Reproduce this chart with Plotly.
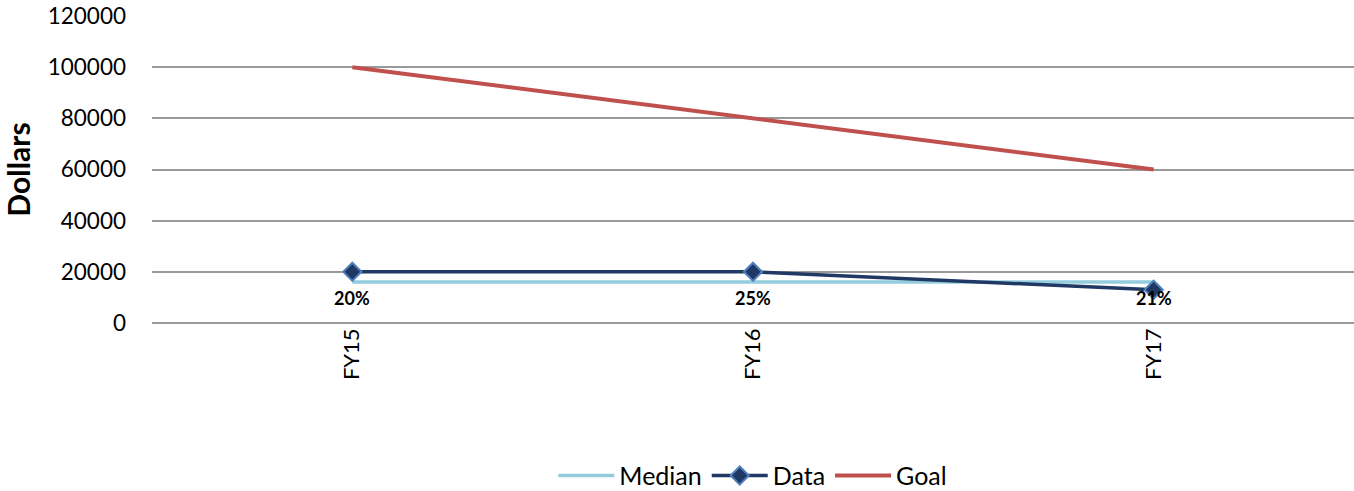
import plotly.graph_objects as go

categories = ["FY15", "FY16", "FY17"]
median = [16000, 16000, 16000]
data = [20000, 20000, 13000]
goal = [100000, 80000, 60000]
data_labels = ["20%", "25%", "21%"]
y_ticks = [0, 20000, 40000, 60000, 80000, 100000, 120000]

FONT = "Lato"

fig = go.Figure()
fig.add_trace(go.Scatter(
    x=categories, y=median, name="Median", mode="lines",
    line=dict(color="#93CDDD", width=3.5),
))
fig.add_trace(go.Scatter(
    x=categories, y=data, name="Data", mode="lines+markers",
    line=dict(color="#1F3864", width=3.5),
    marker=dict(symbol="diamond", size=14, color="#1F3864",
                line=dict(color="#4F81BD", width=2)),
))
fig.add_trace(go.Scatter(
    x=categories, y=goal, name="Goal", mode="lines",
    line=dict(color="#C0504D", width=4),
))

for cat, val, lab in zip(categories, median, data_labels):
    fig.add_annotation(
        x=cat, y=val, text=lab, showarrow=False, yshift=-16,
        font=dict(family=FONT, size=18, color="black", weight="bold"),
    )

fig.update_layout(
    width=1354, height=491,
    margin=dict(l=152, r=0, t=16, b=168, autoexpand=False),
    plot_bgcolor="white", paper_bgcolor="white",
    font=dict(family=FONT, size=22, color="black"),
    showlegend=True,
    legend=dict(orientation="h", xref="container", yref="container",
                x=0.556, xanchor="center", y=0.031, yanchor="middle",
                font=dict(family=FONT, size=25), traceorder="normal",
                itemwidth=56),
)
fig.update_xaxes(
    range=[-0.5, 2.5], tickangle=-90, showgrid=False, zeroline=False,
    showline=False, ticks="", tickfont=dict(family=FONT, size=22),
    automargin=False,
)
fig.update_yaxes(
    range=[0, 120000], tickvals=y_ticks, showgrid=True, gridcolor="#999999",
    gridwidth=1.5, zeroline=True, zerolinecolor="#999999", zerolinewidth=1.5,
    ticks="", ticklabelstandoff=25, tickformat="d",
    tickfont=dict(family=FONT, size=22.5),
    title=dict(text="<b>Dollars</b>", font=dict(family=FONT, size=30), standoff=24),
    automargin=False,
)

# remove the default 8px page margin so the figure fills the window exactly
fig.write_html("out.html", config={"displayModeBar": False},
               post_script="document.body.style.margin='0';")
